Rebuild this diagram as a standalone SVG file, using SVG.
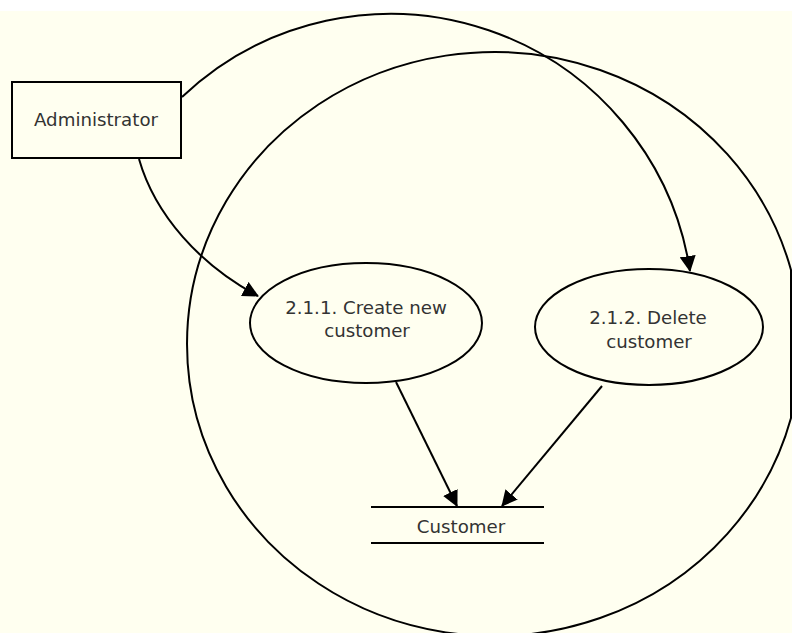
<svg xmlns="http://www.w3.org/2000/svg" width="792" height="633" viewBox="0 0 792 633">
<defs>
<style>
.bg{fill:#FFFFF0}
.shape{fill:none;stroke:#000;stroke-width:2}
.box{fill:#FFFFF0;stroke:#000;stroke-width:2}
.edge{fill:none;stroke:#000;stroke-width:2}
.lbl{font-family:"DejaVu Sans","Liberation Sans",sans-serif;font-size:18.2px;fill:#333;text-anchor:middle}
</style>
<marker id="arr" markerUnits="userSpaceOnUse" viewBox="0 0 16 16" refX="15" refY="8" markerWidth="16" markerHeight="16" orient="auto">
<path d="M0,0 L16,8 L0,16 z" fill="#000"/>
</marker>
</defs>
<rect width="792" height="633" fill="#fff"/>
<rect class="bg" x="0" y="11" width="792" height="622"/>
<g id="boundary">
<path class="shape" d="M791,270 A307,292 0 1 0 791,418 Z"/>
</g>
<g id="connectors">
<path class="edge" d="M182,97 A303,303 0 0 1 690,271" marker-end="url(#arr)"/>
<path class="edge" d="M139,159 C155,215 200,265 258,296" marker-end="url(#arr)"/>
<path class="edge" d="M396,382 L457,506" marker-end="url(#arr)"/>
<path class="edge" d="M602,386 L502,506" marker-end="url(#arr)"/>
</g>
<g id="administrator">
<rect class="box" x="12" y="82" width="169" height="76"/>
<text class="lbl" x="96" y="126">Administrator</text>
</g>
<g id="p211">
<ellipse class="shape" cx="366" cy="323" rx="116" ry="60"/>
<text class="lbl" x="366" y="314">2.1.1. Create new</text>
<text class="lbl" x="367" y="337">customer</text>
</g>
<g id="p212">
<ellipse class="shape" cx="649" cy="327" rx="114" ry="58"/>
<text class="lbl" x="648" y="324">2.1.2. Delete</text>
<text class="lbl" x="649" y="348">customer</text>
</g>
<g id="customer-store">
<line class="shape" x1="371" y1="507" x2="544" y2="507"/>
<line class="shape" x1="371" y1="543" x2="544" y2="543"/>
<text class="lbl" x="461" y="533">Customer</text>
</g>
</svg>
